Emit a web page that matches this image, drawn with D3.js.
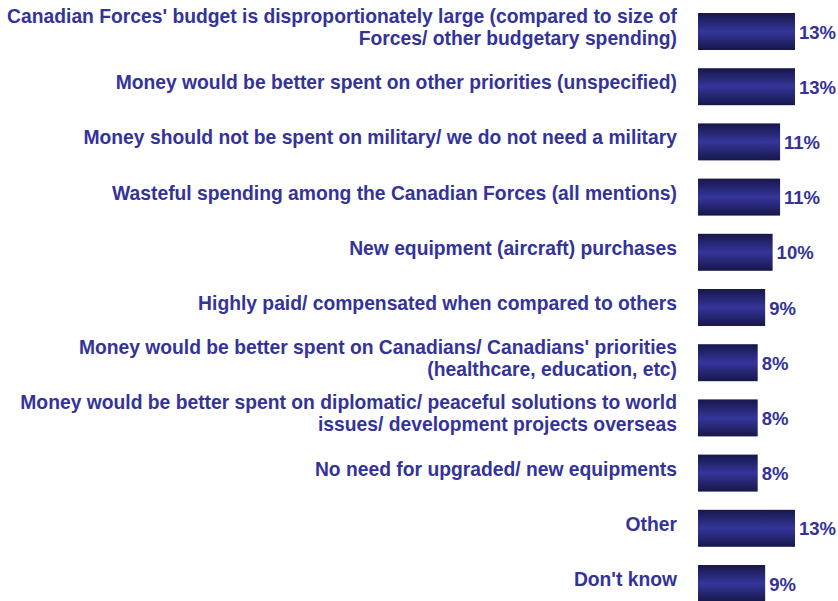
<!DOCTYPE html>
<html>
<head>
<meta charset="utf-8">
<script src="https://cdn.jsdelivr.net/npm/d3@7"></script>
<style>
  body { margin: 0; background: #fff; }
  text { font-family: "Liberation Sans", Arial, sans-serif; font-weight: bold; fill: #333399; }
</style>
</head>
<body>
<div id="chart"></div>
<script>
// Data
var categories = [
  ["Canadian Forces' budget is disproportionately large (compared to size of", "Forces/ other budgetary spending)"],
  ["Money would be better spent on other priorities (unspecified)"],
  ["Money should not be spent on military/ we do not need a military"],
  ["Wasteful spending among the Canadian Forces (all mentions)"],
  ["New equipment (aircraft) purchases"],
  ["Highly paid/ compensated when compared to others"],
  ["Money would be better spent on Canadians/ Canadians' priorities", "(healthcare, education, etc)"],
  ["Money would be better spent on diplomatic/ peaceful solutions to world", "issues/ development projects overseas"],
  ["No need for upgraded/ new equipments"],
  ["Other"],
  ["Don't know"]
];
var values = [13, 13, 11, 11, 10, 9, 8, 8, 8, 13, 9];

// Chart Setup
var width = 838, height = 601;
var svg = d3.select('#chart')
  .append('svg')
  .attr('width', width)
  .attr('height', height);

var ids = d3.range(values.length);
var xScale = d3.scaleLinear()
  .domain([0, 13])
  .range([698, 795]);
var yScale = d3.scaleBand()
  .domain(ids)
  .range([3.9, 611.1])
  .paddingInner(0.33)
  .paddingOuter(0.165);

// Gradient for bars
var grad = svg.append('defs').append('linearGradient')
  .attr('id', 'barGrad')
  .attr('x1', 0).attr('y1', 0).attr('x2', 0).attr('y2', 1);
grad.append('stop').attr('offset', '0%').attr('stop-color', '#17174a');
grad.append('stop').attr('offset', '50%').attr('stop-color', '#35359b');
grad.append('stop').attr('offset', '100%').attr('stop-color', '#17174a');

// Bars
svg.selectAll('rect.bar')
  .data(values)
  .enter()
  .append('rect')
  .attr('class', 'bar')
  .attr('x', xScale(0))
  .attr('y', function (d, i) { return yScale(i); })
  .attr('width', function (d) { return xScale(d) - xScale(0); })
  .attr('height', yScale.bandwidth())
  .attr('fill', 'url(#barGrad)');

// Value labels
svg.selectAll('text.value')
  .data(values)
  .enter()
  .append('text')
  .attr('class', 'value')
  .attr('x', function (d) { return xScale(d) + 4; })
  .attr('y', function (d, i) { return yScale(i) + yScale.bandwidth() / 2 + 7; })
  .style('font-size', '18.5px')
  .text(function (d) { return d + '%'; });

// Category labels
var labels = svg.selectAll('text.label')
  .data(categories)
  .enter()
  .append('text')
  .attr('class', 'label')
  .attr('text-anchor', 'end')
  .style('font-size', '19.3px');

labels.each(function (lines, i) {
  var cy = yScale(i) + yScale.bandwidth() / 2 - 4.5;
  var lineH = 22;
  var y0 = cy - (lines.length - 1) * lineH / 2 + 7;
  d3.select(this).selectAll('tspan')
    .data(lines)
    .enter()
    .append('tspan')
    .attr('x', 677)
    .attr('y', function (d, j) { return y0 + j * lineH; })
    .text(function (d) { return d; });
});
</script>
</body>
</html>
